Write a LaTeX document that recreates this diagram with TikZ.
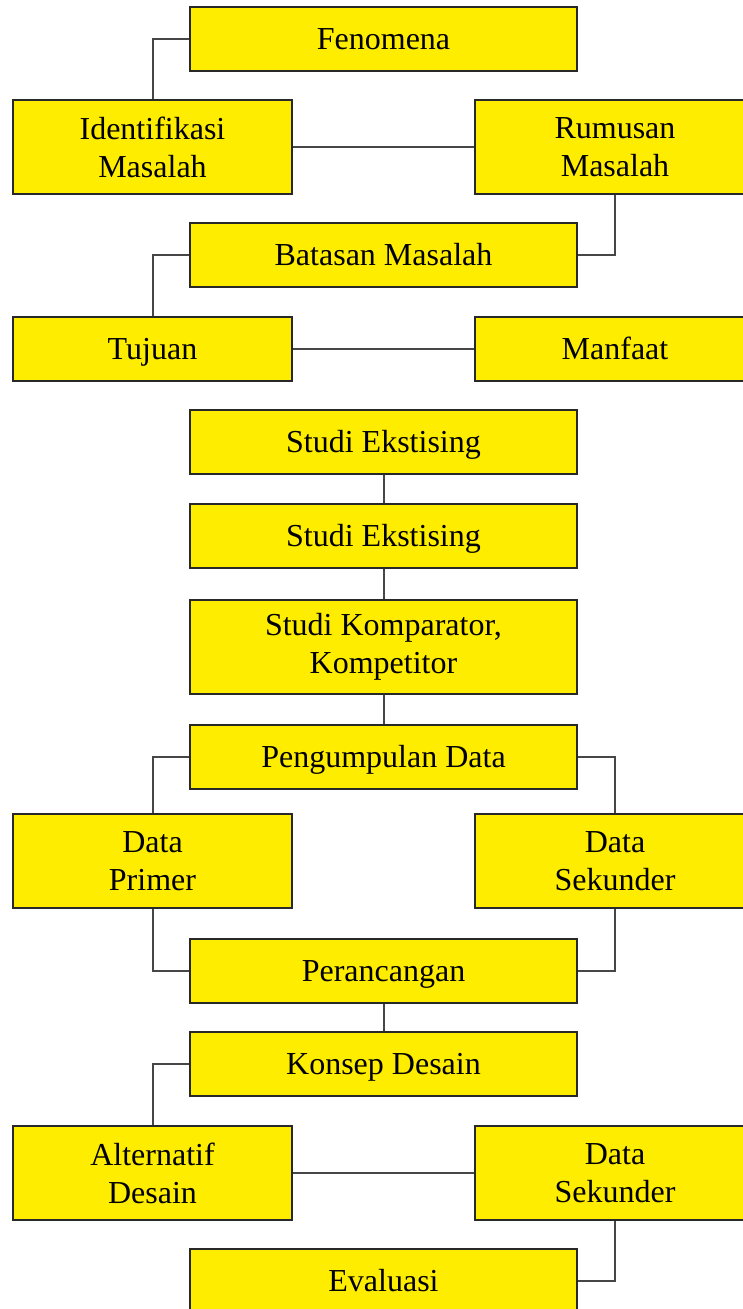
\documentclass[tikz,border=0pt]{standalone}
\usepackage{fontspec}
\setmainfont{Liberation Serif}
\definecolor{boxfill}{RGB}{255,237,0}
\definecolor{boxline}{RGB}{40,40,40}
\definecolor{linkline}{RGB}{70,70,70}
\begin{document}
\begin{tikzpicture}[x=1pt,y=-1pt,
  box/.style={draw=boxline, fill=boxfill, line width=2.5pt, inner sep=0pt,
    align=center, font=\fontsize{32}{38}\selectfont},
  wide/.style={box, minimum width=387pt},
  side/.style={box, minimum width=279pt},
  short/.style={minimum height=64pt, text height=21.5pt, text depth=0pt},
  tall/.style={minimum height=94pt},
  link/.style={draw=linkline, line width=2pt}]
\useasboundingbox (0,0) rectangle (743,1309);
\clip (0,0) rectangle (743,1309);
\node[wide,short] (fen) at (383.5,39) {Fenomena};
\node[side,tall] (idm) at (152.5,147) {Identifikasi\\Masalah};
\node[side,tall,minimum width=280pt] (rum) at (615,147) {Rumusan\\Masalah};
\node[wide,short] (bat) at (383.5,255) {Batasan Masalah};
\node[side,short] (tuj) at (152.5,349) {Tujuan};
\node[side,short,minimum width=280pt] (man) at (615,349) {Manfaat};
\node[wide,short] (se1) at (383.5,442) {Studi Ekstising};
\node[wide,short] (se2) at (383.5,536) {Studi Ekstising};
\node[wide,tall] (kom) at (383.5,647) {Studi Komparator,\\ Kompetitor};
\node[wide,short] (pen) at (383.5,757) {Pengumpulan Data};
\node[side,tall] (dp) at (152.5,861) {Data\\Primer};
\node[side,tall,minimum width=280pt] (ds) at (615,861) {Data\\Sekunder};
\node[wide,short] (per) at (383.5,971) {Perancangan};
\node[wide,short] (kon) at (383.5,1064) {Konsep Desain};
\node[side,tall] (alt) at (152.5,1173) {Alternatif\\Desain};
\node[side,tall,minimum width=280pt] (ds2) at (615,1173) {Data\\Sekunder};
\node[wide,short] (eva) at (383.5,1281) {Evaluasi};
\draw[link] (fen.west) -| (idm.north);
\draw[link] (idm.east) -- (rum.west);
\draw[link] (rum.south) |- (bat.east);
\draw[link] (bat.west) -| (tuj.north);
\draw[link] (tuj.east) -- (man.west);
\draw[link] (se1.south) -- (se2.north);
\draw[link] (se2.south) -- (kom.north);
\draw[link] (kom.south) -- (pen.north);
\draw[link] (pen.west) -| (dp.north);
\draw[link] (pen.east) -| (ds.north);
\draw[link] (dp.south) |- (per.west);
\draw[link] (ds.south) |- (per.east);
\draw[link] (per.south) -- (kon.north);
\draw[link] (kon.west) -| (alt.north);
\draw[link] (alt.east) -- (ds2.west);
\draw[link] (ds2.south) |- (eva.east);
\end{tikzpicture}
\end{document}
